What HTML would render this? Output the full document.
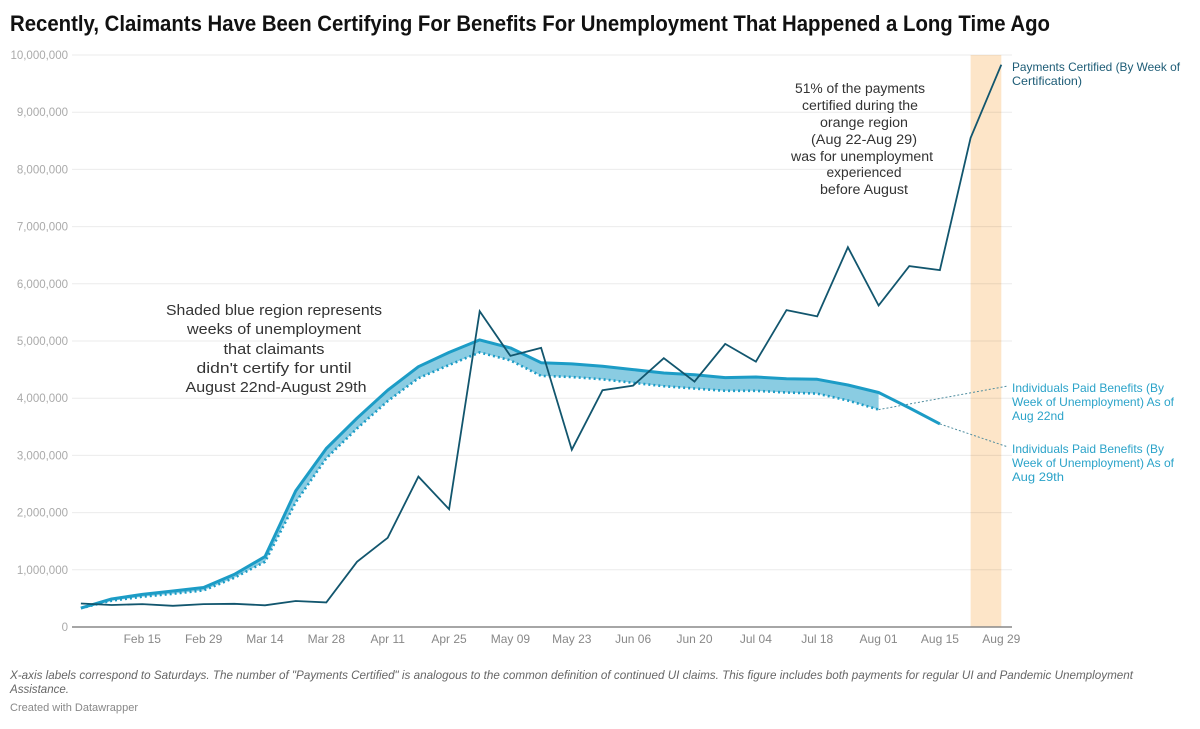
<!DOCTYPE html>
<html lang="en">
<head>
<meta charset="utf-8">
<title>Recently, Claimants Have Been Certifying For Benefits</title>
<style>
html,body{margin:0;padding:0;background:#fff;width:1200px;height:729px;overflow:hidden}
svg{display:block}
text{font-family:"Liberation Sans",sans-serif}
</style>
</head>
<body>
<svg id="chart" width="1200" height="729" viewBox="0 0 1200 729" xmlns="http://www.w3.org/2000/svg">
  <text x="10" y="31" font-size="22" font-weight="700" fill="#111" textLength="1040" lengthAdjust="spacingAndGlyphs">Recently, Claimants Have Been Certifying For Benefits For Unemployment That Happened a Long Time Ago</text>

  <g id="plot"></g>

  <g font-size="15" fill="#333" text-anchor="middle">
    <text x="274" y="315" textLength="216" lengthAdjust="spacingAndGlyphs">Shaded blue region represents</text>
    <text x="274" y="334" textLength="174" lengthAdjust="spacingAndGlyphs">weeks of unemployment</text>
    <text x="274" y="354" textLength="101" lengthAdjust="spacingAndGlyphs">that claimants</text>
    <text x="274" y="373" textLength="155" lengthAdjust="spacingAndGlyphs">didn't certify for until</text>
    <text x="276" y="392" textLength="181" lengthAdjust="spacingAndGlyphs">August 22nd-August 29th</text>
  </g>

  <g font-size="13.5" fill="#333" text-anchor="middle">
    <text x="860" y="93" textLength="130" lengthAdjust="spacingAndGlyphs">51% of the payments</text>
    <text x="860" y="110" textLength="116" lengthAdjust="spacingAndGlyphs">certified during the</text>
    <text x="864" y="127" textLength="88" lengthAdjust="spacingAndGlyphs">orange region</text>
    <text x="864" y="144" textLength="106" lengthAdjust="spacingAndGlyphs">(Aug 22-Aug 29)</text>
    <text x="862" y="161" textLength="142" lengthAdjust="spacingAndGlyphs">was for unemployment</text>
    <text x="864" y="177" textLength="75" lengthAdjust="spacingAndGlyphs">experienced</text>
    <text x="864" y="194" textLength="88" lengthAdjust="spacingAndGlyphs">before August</text>
  </g>

  <g font-size="12" fill="#1d5c76">
    <text x="1012" y="71" textLength="168" lengthAdjust="spacingAndGlyphs">Payments Certified (By Week of</text>
    <text x="1012" y="85" textLength="70" lengthAdjust="spacingAndGlyphs">Certification)</text>
  </g>
  <g font-size="12" fill="#2ba3c9">
    <text x="1012" y="392" textLength="152" lengthAdjust="spacingAndGlyphs">Individuals Paid Benefits (By</text>
    <text x="1012" y="406" textLength="162" lengthAdjust="spacingAndGlyphs">Week of Unemployment) As of</text>
    <text x="1012" y="420" textLength="52" lengthAdjust="spacingAndGlyphs">Aug 22nd</text>
  </g>
  <g font-size="12" fill="#2ba3c9">
    <text x="1012" y="453" textLength="152" lengthAdjust="spacingAndGlyphs">Individuals Paid Benefits (By</text>
    <text x="1012" y="467" textLength="162" lengthAdjust="spacingAndGlyphs">Week of Unemployment) As of</text>
    <text x="1012" y="481" textLength="52" lengthAdjust="spacingAndGlyphs">Aug 29th</text>
  </g>

  <g font-size="12" font-style="italic" fill="#666">
    <text x="10" y="679" textLength="1123" lengthAdjust="spacingAndGlyphs">X-axis labels correspond to Saturdays. The number of "Payments Certified" is analogous to the common definition of continued UI claims. This figure includes both payments for regular UI and Pandemic Unemployment</text>
    <text x="10" y="693" textLength="59" lengthAdjust="spacingAndGlyphs">Assistance.</text>
  </g>
  <text x="10" y="711" font-size="11" fill="#888" textLength="128" lengthAdjust="spacingAndGlyphs">Created with Datawrapper</text>
</svg>

<script>
const xTickLabels = ["Feb 15","Feb 29","Mar 14","Mar 28","Apr 11","Apr 25","May 09","May 23","Jun 06","Jun 20","Jul 04","Jul 18","Aug 01","Aug 15","Aug 29"];
const xTickWeeks = [2,4,6,8,10,12,14,16,18,20,22,24,26,28,30];
const yTickValues = [0,1000000,2000000,3000000,4000000,5000000,6000000,7000000,8000000,9000000,10000000];
const paymentsCertified = [0.41,0.385,0.40,0.37,0.40,0.405,0.38,0.455,0.43,1.14,1.56,2.63,2.06,5.52,4.74,4.88,3.10,4.14,4.22,4.70,4.29,4.95,4.64,5.54,5.43,6.64,5.62,6.31,6.24,8.55,9.83];
const paidAsOfAug29 = [0.33,0.49,0.57,0.63,0.69,0.92,1.23,2.38,3.12,3.65,4.14,4.55,4.80,5.02,4.88,4.62,4.60,4.56,4.50,4.44,4.41,4.36,4.37,4.34,4.33,4.23,4.10,3.83,3.55];
const paidAsOfAug22 = [0.33,0.46,0.53,0.58,0.64,0.86,1.14,2.18,2.95,3.47,3.95,4.35,4.58,4.80,4.66,4.39,4.37,4.33,4.27,4.21,4.17,4.13,4.13,4.10,4.08,3.96,3.80];
const highlightWeeks = [29,30];

const SVG_NS = "http://www.w3.org/2000/svg";
const plotGroup = document.getElementById("plot");
const xScale = w => 80.9 + w * 30.68;
const yScale = m => 627 - m * 57.2;
function make(tag, attrs, parent) {
  const el = document.createElementNS(SVG_NS, tag);
  for (const k in attrs) el.setAttribute(k, attrs[k]);
  parent.appendChild(el);
  return el;
}
const toPoints = arr => arr.map((v, i) => xScale(i).toFixed(1) + "," + yScale(v).toFixed(1));

const band = make("rect", {x: xScale(highlightWeeks[0]), y: yScale(10), width: xScale(highlightWeeks[1]) - xScale(highlightWeeks[0]), height: yScale(0) - yScale(10), fill: "#fde5c8"}, plotGroup);



yTickValues.forEach(v => {
  const m = v / 1000000;
  const y = yScale(m);
  const line = make("line", {x1: 72, x2: 1012, y1: y, y2: y, stroke: v === 0 ? "#888" : "rgba(0,0,0,0.08)", "stroke-width": v === 0 ? 1.5 : 1}, plotGroup);
  
  
  const label = make("text", {x: 68, y: y + 4, "text-anchor": "end", "font-size": 11.5, fill: "#aaa"}, plotGroup);
  
  
  label.textContent = v.toLocaleString("en-US");
});

xTickLabels.forEach((t, i) => {
  const label = make("text", {x: xScale(xTickWeeks[i]), y: 643, "text-anchor": "middle", "font-size": 12, fill: "#888"}, plotGroup);
  
  
  label.textContent = t;
});

const last22 = paidAsOfAug22.length - 1;
const last29 = paidAsOfAug29.length - 1;
const leader22 = make("line", {x1: xScale(last22), y1: yScale(paidAsOfAug22[last22]), x2: 1008, y2: 386, stroke: "#4f8d9f", "stroke-width": 1, "stroke-dasharray": "2 2"}, plotGroup);


const leader29 = make("line", {x1: xScale(last29), y1: yScale(paidAsOfAug29[last29]), x2: 1008, y2: 447, stroke: "#4f8d9f", "stroke-width": 1, "stroke-dasharray": "2 2"}, plotGroup);



const upperEdge = toPoints(paidAsOfAug29.slice(0, paidAsOfAug22.length));
const lowerEdge = toPoints(paidAsOfAug22).reverse();
const area = make("polygon", {points: upperEdge.concat(lowerEdge).join(" "), fill: "#8accE2"}, plotGroup);



const dotted = make("polyline", {points: toPoints(paidAsOfAug22).join(" "), fill: "none", stroke: "#1c9cc6", "stroke-width": 2.6, "stroke-dasharray": "2 3"}, plotGroup);



const solid = make("polyline", {points: toPoints(paidAsOfAug29).join(" "), fill: "none", stroke: "#1c9cc6", "stroke-width": 3, "stroke-linejoin": "round"}, plotGroup);



const cert = make("polyline", {points: toPoints(paymentsCertified).join(" "), fill: "none", stroke: "#12566e", "stroke-width": 1.8, "stroke-linejoin": "miter"}, plotGroup);


</script>
</body>
</html>
